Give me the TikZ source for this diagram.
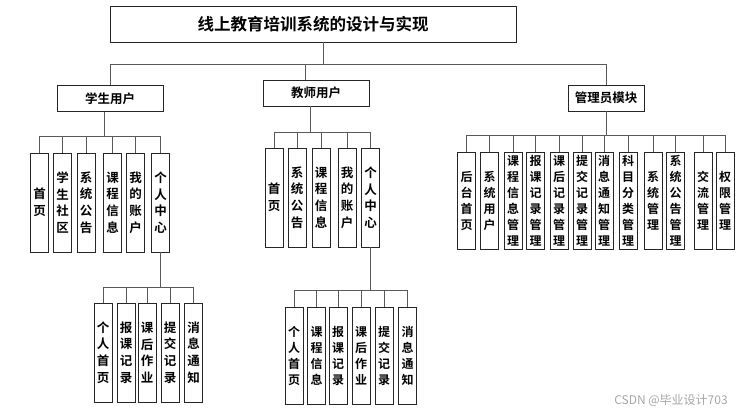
\documentclass[tikz,border=0pt]{standalone}
\usepackage{fontspec}
\usepackage{xcolor}
\usepackage{tikz}
\usetikzlibrary{positioning,calc}
\setmainfont{Noto Sans CJK SC}
\newfontfamily\cjkb{Noto Sans CJK SC Bold}
\newfontfamily\cjkl{Noto Sans CJK SC}

\begin{document}
\begin{tikzpicture}[
  x=1pt,y=-1pt,
  link/.style={draw=black!65,line width=0.8pt},
  box/.style={draw=black!85,line width=0.8pt,fill=white,inner sep=0pt,align=center},
  titlebox/.style={box,minimum width=406pt,minimum height=36pt,font=\cjkb\fontsize{16.5}{18}\selectfont},
  groupbox/.style={box,minimum width=106pt,minimum height=26pt,font=\cjkb\fontsize{12.5}{14}\selectfont},
  leaf/.style={box,minimum width=18pt,minimum height=99pt,font=\cjkb\fontsize{12.5}{16.7}\selectfont},
  longleaf/.style={leaf,minimum height=97pt,font=\cjkb\fontsize{12}{16}\selectfont},
]
\useasboundingbox (0,0) rectangle (746,415);

% top
\node[titlebox] (title) at (313,24) {线上教育培训系统的设计与实现};

% second row: user groups
\node[groupbox] (stu) at (110,98.5) {学生用户};
\node[groupbox] (tea) at (316,93) {教师用户};
\node[groupbox,minimum width=76pt] (adm) at (606,98) {管理员模块};

\draw[link] ([xshift=10pt]title.south) -- ++(0,22) coordinate (rootbus);
\draw[link] (stu.north) |- (rootbus) -| (adm.north);
\draw[link] ([xshift=-11pt]tea.north) -- ([xshift=-11pt]tea.north |- rootbus);

% student modules
\node[leaf] (s1) at (39.5,202.5) {首\\页};
\node[leaf] (s2) at (62.5,202.5) {学\\生\\社\\区};
\node[leaf] (s3) at (86,202.5)   {系\\统\\公\\告};
\node[leaf] (s4) at (112.5,202.5) {课\\程\\信\\息};
\node[leaf] (s5) at (135.5,202.5) {我\\的\\账\\户};
\node[leaf] (s6) at (160.5,202.5) {个\\人\\中\\心};

\draw[link] ([xshift=-6pt]stu.south) -- ++(0,24) coordinate (stubus);
\draw[link] (s1.north) |- (stubus) -| (s6.north);
\foreach \n in {s2,s3,s4,s5}
  \draw[link] (\n.north) -- (\n.north |- stubus);

% student personal center
\node[leaf] (ss1) at (103,352.5)   {个\\人\\首\\页};
\node[leaf] (ss2) at (126,352.5)   {报\\课\\记\\录};
\node[leaf] (ss3) at (147,352.5)   {课\\后\\作\\业};
\node[leaf] (ss4) at (170,352.5)   {提\\交\\记\\录};
\node[leaf] (ss5) at (193.5,352.5) {消\\息\\通\\知};

\draw[link] (s6.south) -- ++(0,35) coordinate (ssbus);
\draw[link] (ss1.north) |- (ssbus) -| (ss5.north);
\foreach \n in {ss2,ss3,ss4}
  \draw[link] (\n.north) -- (\n.north |- ssbus);

% teacher modules
\node[leaf] (t1) at (274,197.5)   {首\\页};
\node[leaf] (t2) at (297,197.5)   {系\\统\\公\\告};
\node[leaf] (t3) at (321,197.5)   {课\\程\\信\\息};
\node[leaf] (t4) at (347,197.5)   {我\\的\\账\\户};
\node[leaf] (t5) at (370.5,197.5) {个\\人\\中\\心};

\draw[link] ([xshift=-6pt]tea.south) -- ++(0,26) coordinate (teabus);
\draw[link] (t1.north) |- (teabus) -| (t5.north);
\foreach \n in {t2,t3,t4}
  \draw[link] (\n.north) -- (\n.north |- teabus);

% teacher personal center
\node[longleaf] (ts1) at (294,355.5)   {个\\人\\首\\页};
\node[longleaf] (ts2) at (316.5,355.5) {课\\程\\信\\息};
\node[longleaf] (ts3) at (338,355.5)   {报\\课\\记\\录};
\node[longleaf] (ts4) at (361,355.5)   {课\\后\\作\\业};
\node[longleaf] (ts5) at (384,355.5)   {提\\交\\记\\录};
\node[longleaf] (ts6) at (407.5,355.5) {消\\息\\通\\知};

\draw[link] (t5.south) -- ++(0,43) coordinate (tsbus);
\draw[link] (ts1.north) |- (tsbus) -| (ts6.north);
\foreach \n in {ts2,ts3,ts4,ts5}
  \draw[link] (\n.north) -- (\n.north |- tsbus);

% admin modules
\node[longleaf] (a1)  at (466.5,200.5) {后\\台\\首\\页};
\node[longleaf] (a2)  at (489.5,200.5) {系\\统\\用\\户};
\node[longleaf] (a3)  at (513,200.5)   {课\\程\\信\\息\\管\\理};
\node[longleaf] (a4)  at (535.5,200.5) {报\\课\\记\\录\\管\\理};
\node[longleaf] (a5)  at (559,200.5)   {课\\后\\记\\录\\管\\理};
\node[longleaf] (a6)  at (582,200.5)   {提\\交\\记\\录\\管\\理};
\node[longleaf] (a7)  at (604,200.5)   {消\\息\\通\\知\\管\\理};
\node[longleaf] (a8)  at (628,200.5)   {科\\目\\分\\类\\管\\理};
\node[longleaf] (a9)  at (653,200.5)   {系\\统\\管\\理};
\node[longleaf] (a10) at (675.5,200.5) {系\\统\\公\\告\\管\\理};
\node[longleaf] (a11) at (703,200.5)   {交\\流\\管\\理};
\node[longleaf] (a12) at (725,200.5)   {权\\限\\管\\理};

\draw[link] (adm.south) -- ++(0,24) coordinate (admbus);
\draw[link] (a1.north) |- (admbus) -| (a12.north);
\foreach \n in {a2,a3,a4,a5,a6,a7,a8,a9,a10,a11}
  \draw[link] (\n.north) -- (\n.north |- admbus);

% watermark
\node[font=\cjkl\fontsize{12}{13}\selectfont,text=black!35] (mark) at (671,401) {CSDN @毕业设计703};
\end{tikzpicture}
\end{document}
